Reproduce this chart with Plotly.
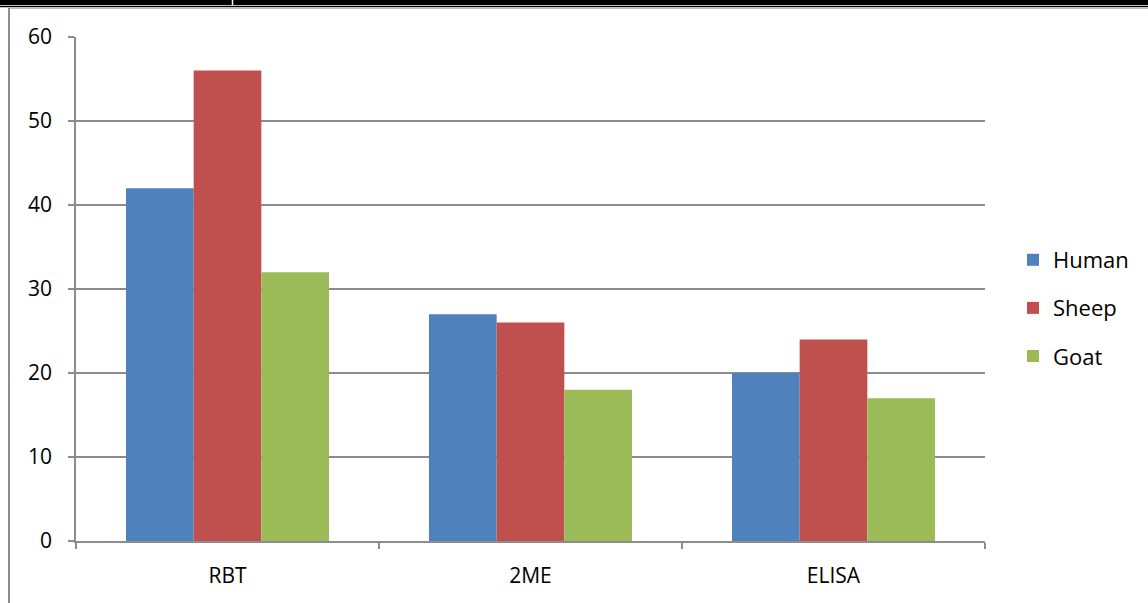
import plotly.graph_objects as go

categories = ["RBT", "2ME", "ELISA"]
human = [42, 27, 20]
sheep = [56, 26, 24]
goat = [32, 18, 17]

series = [
    ("Human", human, "#4f81bd"),
    ("Sheep", sheep, "#c0504d"),
    ("Goat", goat, "#9bbb59"),
]

W, H = 1148, 603
L, R, T, B = 76, 163, 37, 62
pw, ph = W - L - R, H - T - B


def px_x(x):
    return (x - L) / pw


def px_y(y):
    return (H - B - y) / ph


fig = go.Figure()
for name, vals, color in series:
    fig.add_trace(go.Bar(
        x=list(range(len(categories))), y=vals, name=name, legendgroup=name,
        marker=dict(color=color, line=dict(width=0)),
    ))

grid = "#8c8c8c"
fig.update_layout(
    width=W, height=H,
    margin=dict(l=L, r=R, t=T, b=B),
    paper_bgcolor="white", plot_bgcolor="white",
    barmode="group", bargap=0.33, bargroupgap=0,
    font=dict(family="Open Sans, Liberation Sans, sans-serif", size=21, color="#000000"),
    xaxis=dict(
        range=[-0.5, 2.5], tickmode="array", tickvals=[0, 1, 2], ticktext=categories,
        ticks="", showgrid=False, showline=True, linecolor=grid, linewidth=1.5,
        minor=dict(tickvals=[-0.5, 0.5, 1.5, 2.5], ticks="outside", ticklen=6,
                   tickcolor=grid, tickwidth=1.5, showgrid=False),
        ticklabelstandoff=15, zeroline=False, fixedrange=True,
    ),
    yaxis=dict(
        range=[0, 60], dtick=10, showgrid=True, gridcolor=grid, gridwidth=1.5,
        showline=True, linecolor=grid, linewidth=1.5, ticks="outside", ticklen=6,
        tickcolor=grid, tickwidth=1.5, zeroline=False, ticklabelstandoff=12,
    ),
    legend=dict(
        x=px_x(1013), y=px_y(239), xanchor="left", yanchor="top",
        font=dict(size=22), itemwidth=30, traceorder="grouped", tracegroupgap=16.5,
        bgcolor="rgba(0,0,0,0)",
    ),
    showlegend=True,
)

# frame lines around the chart area
fig.add_shape(type="rect", xref="paper", yref="paper",
              x0=px_x(0), x1=px_x(W), y0=px_y(0), y1=px_y(5),
              fillcolor="black", line=dict(width=0), layer="above")
fig.add_shape(type="line", xref="paper", yref="paper",
              x0=px_x(0), x1=px_x(W), y0=px_y(6.5), y1=px_y(6.5),
              line=dict(color="black", width=1.5))
fig.add_shape(type="line", xref="paper", yref="paper",
              x0=px_x(9), x1=px_x(W), y0=px_y(8.5), y1=px_y(8.5),
              line=dict(color="#bdbdbd", width=1))
fig.add_shape(type="line", xref="paper", yref="paper",
              x0=px_x(9), x1=px_x(9), y0=px_y(8), y1=px_y(H),
              line=dict(color="#8c8c8c", width=2))
fig.add_shape(type="line", xref="paper", yref="paper",
              x0=px_x(232.5), x1=px_x(232.5), y0=px_y(0), y1=px_y(5),
              line=dict(color="white", width=1.5), layer="above")

fig.write_html("out.html")
